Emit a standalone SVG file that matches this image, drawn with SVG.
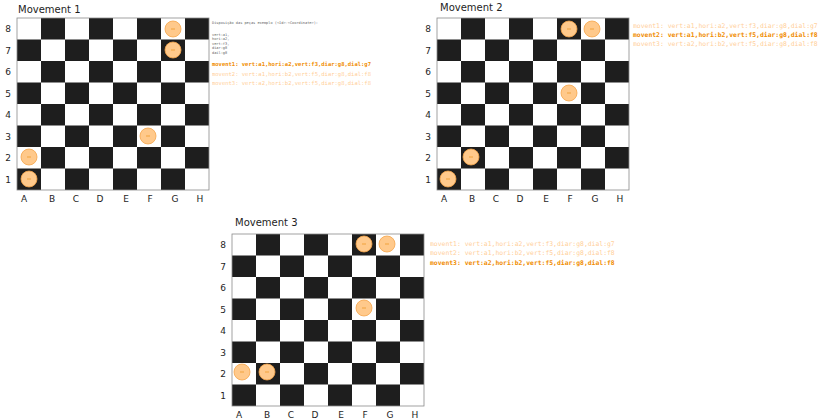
<svg xmlns="http://www.w3.org/2000/svg" xmlns:xlink="http://www.w3.org/1999/xlink" width="820" height="419" viewBox="0 0 820 419">
<style>
.bg{fill:#ffffff}
.w{fill:#ffffff}
.d{fill:#1e1e1e}
.frame{fill:none;stroke:#8a8a8a;stroke-width:0.8}
.pc{fill:#ffc98b;stroke:#f5a54a;stroke-width:0.8}
.pm{stroke:#e8890c;stroke-width:0.6}
.t{font-family:"DejaVu Sans",sans-serif;fill:#1e1e1e}
.title{font-size:10px}
.lab{font-size:9px;text-anchor:middle}
.mono{font-family:"DejaVu Sans Mono","Liberation Mono",monospace}
.note{font-size:3.6px;fill:#666666}
.cur{fill:#f08c00;font-weight:bold}
.old{fill:#ffc078;opacity:0.75}
</style>
<defs>
<g id="board">
<rect x="0" y="0" width="192" height="172" class="w"/>
<rect x="24" y="0" width="24" height="21.5" class="d"/><rect x="72" y="0" width="24" height="21.5" class="d"/><rect x="120" y="0" width="24" height="21.5" class="d"/><rect x="168" y="0" width="24" height="21.5" class="d"/>
<rect x="0" y="21.5" width="24" height="21.5" class="d"/><rect x="48" y="21.5" width="24" height="21.5" class="d"/><rect x="96" y="21.5" width="24" height="21.5" class="d"/><rect x="144" y="21.5" width="24" height="21.5" class="d"/>
<rect x="24" y="43" width="24" height="21.5" class="d"/><rect x="72" y="43" width="24" height="21.5" class="d"/><rect x="120" y="43" width="24" height="21.5" class="d"/><rect x="168" y="43" width="24" height="21.5" class="d"/>
<rect x="0" y="64.5" width="24" height="21.5" class="d"/><rect x="48" y="64.5" width="24" height="21.5" class="d"/><rect x="96" y="64.5" width="24" height="21.5" class="d"/><rect x="144" y="64.5" width="24" height="21.5" class="d"/>
<rect x="24" y="86" width="24" height="21.5" class="d"/><rect x="72" y="86" width="24" height="21.5" class="d"/><rect x="120" y="86" width="24" height="21.5" class="d"/><rect x="168" y="86" width="24" height="21.5" class="d"/>
<rect x="0" y="107.5" width="24" height="21.5" class="d"/><rect x="48" y="107.5" width="24" height="21.5" class="d"/><rect x="96" y="107.5" width="24" height="21.5" class="d"/><rect x="144" y="107.5" width="24" height="21.5" class="d"/>
<rect x="24" y="129" width="24" height="21.5" class="d"/><rect x="72" y="129" width="24" height="21.5" class="d"/><rect x="120" y="129" width="24" height="21.5" class="d"/><rect x="168" y="129" width="24" height="21.5" class="d"/>
<rect x="0" y="150.5" width="24" height="21.5" class="d"/><rect x="48" y="150.5" width="24" height="21.5" class="d"/><rect x="96" y="150.5" width="24" height="21.5" class="d"/><rect x="144" y="150.5" width="24" height="21.5" class="d"/>
<rect x="0" y="0" width="192" height="172" class="frame"/>
<g class="t lab">
<text x="-9" y="14">8</text><text x="-9" y="35.5">7</text><text x="-9" y="57">6</text><text x="-9" y="78.5">5</text><text x="-9" y="100">4</text><text x="-9" y="121.5">3</text><text x="-9" y="143">2</text><text x="-9" y="164.5">1</text>
<text x="7" y="184">A</text><text x="35" y="184">B</text><text x="59" y="184">C</text><text x="83" y="184">D</text><text x="109" y="184">E</text><text x="133" y="184">F</text><text x="158" y="184">G</text><text x="183" y="184">H</text>
</g>
</g>
<g id="piece">
<circle cx="0" cy="0" r="8" class="pc"/>
<line x1="-2" y1="0" x2="2" y2="0" class="pm"/>
</g>
</defs>
<rect x="0" y="0" width="820" height="419" class="bg"/>

<g id="board1">
<text x="18" y="13" class="t title">Movement 1</text>
<use xlink:href="#board" x="17" y="18"/>
<use xlink:href="#piece" x="173" y="29"/>
<use xlink:href="#piece" x="173" y="50"/>
<use xlink:href="#piece" x="148" y="136"/>
<use xlink:href="#piece" x="29" y="157"/>
<use xlink:href="#piece" x="29" y="179"/>
</g>
<g id="notes1" class="mono">
<text x="212" y="23.5" class="note mono">Disposição das peças exemplo (&lt;Id&gt;-&lt;Coordinate&gt;):</text>
<text x="212" y="35.5" class="note mono">vert:a1,</text>
<text x="212" y="40" class="note mono">hori:a2,</text>
<text x="212" y="44.5" class="note mono">vert:f3,</text>
<text x="212" y="49" class="note mono">diar:g8</text>
<text x="212" y="53.5" class="note mono">dail:g8</text>
<text x="212" y="66" font-size="5.5" class="mono cur">movent1: vert:a1,hori:a2,vert:f3,diar:g8,dial:g7</text>
<text x="212" y="76" font-size="5.5" class="mono old">movent2: vert:a1,hori:b2,vert:f5,diar:g8,dial:f8</text>
<text x="212" y="84.5" font-size="5.5" class="mono old">movent3: vert:a2,hori:b2,vert:f5,diar:g8,dial:f8</text>
</g>

<g id="board2">
<text x="440" y="11" class="t title">Movement 2</text>
<use xlink:href="#board" x="437" y="18"/>
<use xlink:href="#piece" x="569" y="29"/>
<use xlink:href="#piece" x="592" y="29"/>
<use xlink:href="#piece" x="569" y="93"/>
<use xlink:href="#piece" x="471" y="157"/>
<use xlink:href="#piece" x="448" y="179"/>
</g>
<g id="notes2">
<text x="633" y="28" font-size="6.4" class="mono old">movent1: vert:a1,hori:a2,vert:f3,diar:g8,dial:g7</text>
<text x="633" y="37" font-size="6.4" class="mono cur">movent2: vert:a1,hori:b2,vert:f5,diar:g8,dial:f8</text>
<text x="633" y="46" font-size="6.4" class="mono old">movent3: vert:a2,hori:b2,vert:f5,diar:g8,dial:f8</text>
</g>

<g id="board3">
<text x="235" y="226" class="t title">Movement 3</text>
<use xlink:href="#board" x="232" y="234" transform="translate(0,0)"/>
<use xlink:href="#piece" x="364" y="244"/>
<use xlink:href="#piece" x="387" y="244"/>
<use xlink:href="#piece" x="364" y="308"/>
<use xlink:href="#piece" x="242" y="372"/>
<use xlink:href="#piece" x="267" y="372"/>
</g>
<g id="notes3">
<text x="430" y="246" font-size="6.4" class="mono old">movent1: vert:a1,hori:a2,vert:f3,diar:g8,dial:g7</text>
<text x="430" y="255" font-size="6.4" class="mono old">movent2: vert:a1,hori:b2,vert:f5,diar:g8,dial:f8</text>
<text x="430" y="265" font-size="6.4" class="mono cur">movent3: vert:a2,hori:b2,vert:f5,diar:g8,dial:f8</text>
</g>
<g id="connectors"/>
</svg>
